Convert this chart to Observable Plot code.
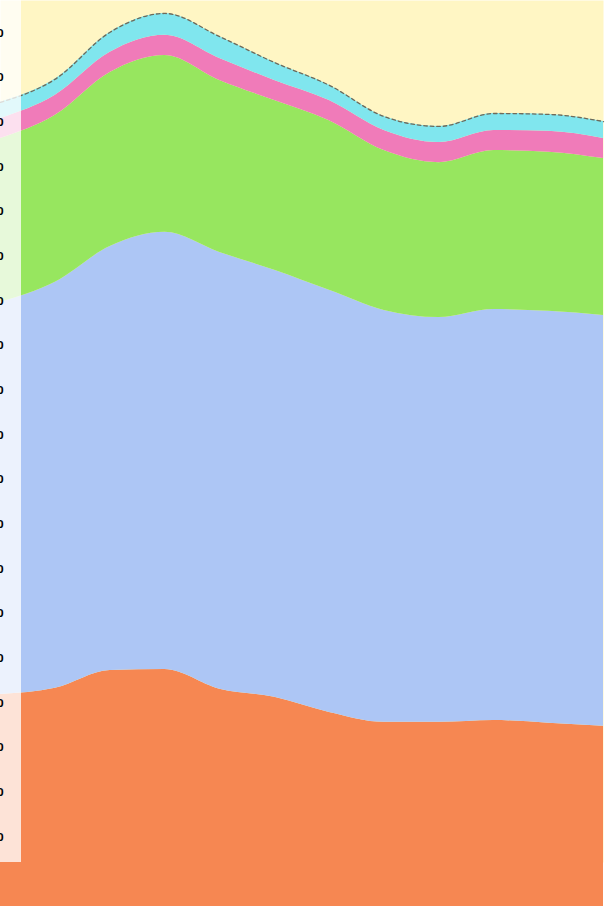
<!DOCTYPE html>
<html>
<head>
<meta charset="utf-8">
<script src="https://cdn.jsdelivr.net/npm/d3@7"></script>
<script src="https://cdn.jsdelivr.net/npm/@observablehq/plot@0.6"></script>
<style>
  html, body { margin: 0; padding: 0; background: #fff; overflow: hidden; }
  #chart { width: 608px; height: 906px; }
</style>
</head>
<body>
<div id="chart"></div>
<script>
// ---- data ----
const periods = [0, 1, 2, 3, 4, 5, 6, 7, 8, 9, 10, 11];
const seriesNames = ["Series A", "Series B", "Series C", "Series D", "Series E"]; // bottom -> top
const seriesAValues = [131.9, 133.3, 137.3, 137.5, 133.1, 131.3, 127.9, 125.7, 125.7, 126.1, 125.5, 124.8];
const seriesBValues = [87.8, 90.9, 94.9, 97.9, 97.8, 95.6, 94.5, 92.2, 90.6, 92.0, 92.2, 92.0];
const seriesCValues = [36.7, 37.4, 39.0, 39.6, 38.5, 38.0, 38.0, 35.8, 34.7, 35.6, 35.6, 35.1];
const seriesDValues = [4.5, 4.5, 4.5, 4.5, 4.9, 4.5, 4.5, 4.5, 4.5, 4.5, 4.7, 4.5];
const seriesEValues = [3.6, 3.6, 4.5, 4.9, 4.9, 4.0, 3.4, 3.1, 3.6, 3.8, 3.8, 3.8];
const yTicks = [100, 110, 120, 130, 140, 150, 160, 170, 180, 190, 200, 210, 220, 230, 240, 250, 260, 270, 280];

// ---- styles ----
const seriesColors = ["#F68752", "#ADC6F5", "#97E65F", "#F07BB9", "#80E6EE"];
const backgroundColor = "#FFF6C4";
const axisPanelWidth = 21;

const seriesValues = [seriesAValues, seriesBValues, seriesCValues, seriesDValues, seriesEValues];
const table = seriesNames.flatMap((name, j) =>
  periods.map((p, i) => ({period: p, series: name, value: seriesValues[j][i]}))
);
const totals = periods.map((p, i) => ({
  period: p,
  total: d3.sum(seriesValues, (vals) => vals[i])
}));

const curve = "monotone-x";

const chart = Plot.plot({
  width: 608,
  height: 906,
  marginLeft: 0,
  marginRight: 5,
  marginTop: 0,
  marginBottom: 44,
  style: {overflow: "hidden", background: "#fff"},
  x: {domain: [0, 11], axis: null},
  y: {domain: [94.3, 287.3]},
  color: {type: "ordinal", domain: seriesNames, range: seriesColors},
  marks: [
    Plot.frame({fill: backgroundColor, stroke: "none"}),
    Plot.areaY(table, {
      x: "period", y: "value", fill: "series", z: "series",
      order: seriesNames, curve
    }),
    Plot.lineY(totals, {
      x: "period", y: "total", curve,
      stroke: "#6e6a5a", strokeWidth: 1.3, strokeDasharray: "3.5,3"
    }),
    (index, scales, values, dimensions) =>
      d3.create("svg:rect")
        .attr("x", 0).attr("y", 0)
        .attr("width", axisPanelWidth)
        .attr("height", dimensions.height - dimensions.marginBottom)
        .attr("fill", "#fff").attr("fill-opacity", 0.77)
        .node(),
    Plot.axisY(yTicks, {anchor: "left", tickSize: 0, tickPadding: 0, dx: 3, fontSize: 11, fontWeight: "bold", fill: "#000"})
  ]
});

document.getElementById("chart").append(chart);
</script>
</body>
</html>
